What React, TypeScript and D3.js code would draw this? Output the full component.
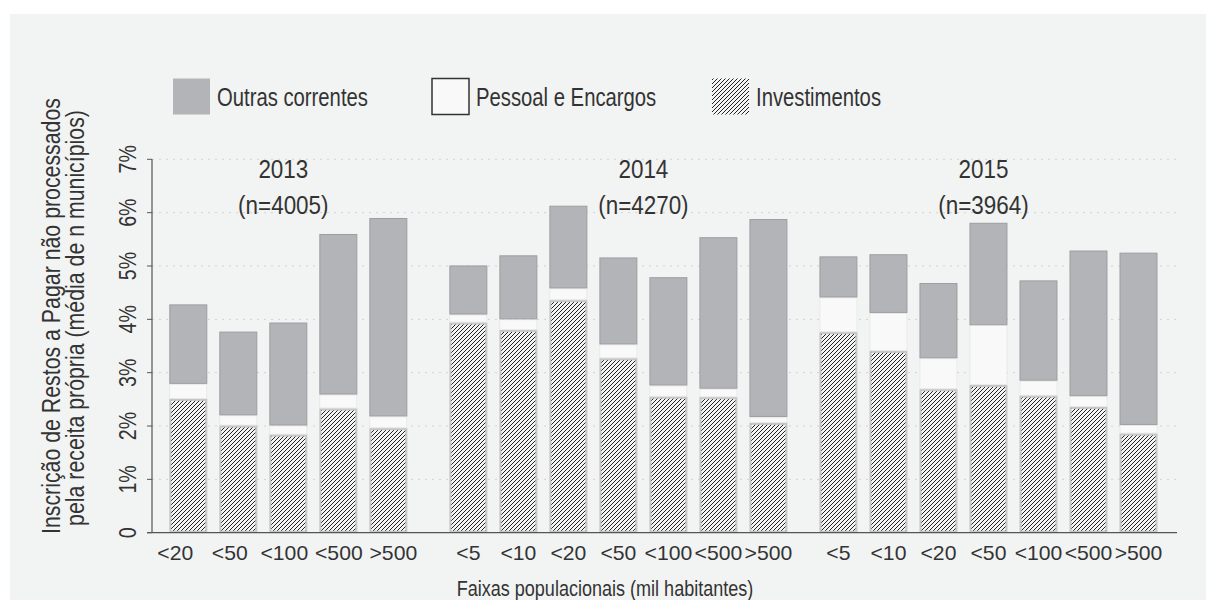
import React from 'react';
import * as d3 from 'd3';

// values (percent of own revenue)
const years = ['2013', '2014', '2015'];
const sampleSizes = ['(n=4005)', '(n=4270)', '(n=3964)'];

const faixas2013 = ['<20', '<50', '<100', '<500', '>500'];
const faixas2014 = ['<5', '<10', '<20', '<50', '<100', '<500', '>500'];
const faixas2015 = ['<5', '<10', '<20', '<50', '<100', '<500', '>500'];

const investimentos2013 = [2.51, 2.01, 1.84, 2.33, 1.96];
const pessoal2013 = [0.28, 0.19, 0.17, 0.26, 0.22];
const outras2013 = [1.49, 1.57, 1.93, 3.01, 3.72];

const investimentos2014 = [3.94, 3.8, 4.36, 3.27, 2.55, 2.54, 2.06];
const pessoal2014 = [0.15, 0.2, 0.22, 0.26, 0.21, 0.16, 0.11];
const outras2014 = [0.92, 1.2, 1.55, 1.63, 2.03, 2.84, 3.71];

const investimentos2015 = [3.76, 3.41, 2.69, 2.77, 2.57, 2.36, 1.86];
const pessoal2015 = [0.65, 0.71, 0.58, 1.12, 0.28, 0.2, 0.16];
const outras2015 = [0.77, 1.1, 1.41, 1.92, 1.88, 2.73, 3.23];

const yTicks = [0, 1, 2, 3, 4, 5, 6, 7];
const seriesKeys = ['investimentos', 'pessoal', 'outras'];
const legendLabels = ['Outras correntes', 'Pessoal e Encargos', 'Investimentos'];

// layout
const W = 1206;
const H = 600;
const FONT = "'Liberation Sans', Arial, sans-serif";
const TEXT = '#333';
const GREY = '#b3b4b8';
const groupGaps = [0, 0.6, 0.4]; // extra slots before each group
const labelSpread = [1.09, 1, 1]; // 2013 tick labels sit a bit wider than its bars
const labelShift = [-0.08, 0, 0];
const yearLabelSlot = [1.9, 9.1, 15.9];
const barWidth = 38;

const groups = [
  { faixas: faixas2013, inv: investimentos2013, pes: pessoal2013, out: outras2013 },
  { faixas: faixas2014, inv: investimentos2014, pes: pessoal2014, out: outras2014 },
  { faixas: faixas2015, inv: investimentos2015, pes: pessoal2015, out: outras2015 },
];

type Row = { slot: number; labelSlot: number; faixa: string; investimentos: number; pessoal: number; outras: number };

const rows: Row[] = [];
let cursor = 0;
groups.forEach((g, gi) => {
  cursor += groupGaps[gi];
  const mid = cursor + (g.faixas.length - 1) / 2;
  g.faixas.forEach((f, i) => {
    const labelSlot = mid + labelShift[gi] + (cursor - mid) * labelSpread[gi];
    rows.push({ slot: cursor, labelSlot, faixa: f, investimentos: g.inv[i], pessoal: g.pes[i], outras: g.out[i] });
    cursor += 1;
  });
});

const x = d3.scaleLinear().domain([0, d3.max(rows, (d) => d.slot) as number]).range([188.3, 1138.5]);
const y = d3.scaleLinear().domain([0, 7]).range([532.7, 159.3]);

const stacked = d3.stack<Row>().keys(seriesKeys)(rows);

const segStyle: Record<string, any> = {
  investimentos: { fill: 'url(#hatch)', stroke: '#c6c6c6', strokeWidth: 2 },
  pessoal: { fill: '#f9f9f9', stroke: '#e2e2e2', strokeWidth: 0.6 },
  outras: { fill: GREY, stroke: '#9d9ea2', strokeWidth: 1 },
};

// text squeezed horizontally to mimic the condensed face of the reference
function NText(props: { x: number; y: number; rotate?: number; anchor?: string; size: number; sx: number; children: any }) {
  const { x: tx, y: ty, rotate = 0, anchor = 'start', size, sx, children } = props;
  return (
    <text transform={`translate(${tx},${ty}) rotate(${rotate}) scale(${sx},1)`}
      textAnchor={anchor} fontSize={size} fill={TEXT}>{children}</text>
  );
}

export default function App() {
  const axisLeft = 152;
  const axisRight = 1177;
  const yBase = y(0);

  return (
    <svg width={W} height={H} style={{ position: 'absolute', left: 0, top: 0, fontFamily: FONT }}>
      <defs>
        <pattern id="hatch" patternUnits="userSpaceOnUse" width="4" height="4">
          <rect width="4" height="4" fill="#f4f4f4" />
          <path d="M-1,1 l2,-2 M0,4 l4,-4 M3,5 l2,-2" stroke="#222" strokeWidth="1" />
        </pattern>
      </defs>
      <rect x={0} y={0} width={W} height={H} fill="#fff" />
      <rect x={10} y={14} width={W - 10} height={H - 14} fill="#f2f3f3" />

      {/* dotted grid */}
      {yTicks.slice(1).map((t) => (
        <line key={t} x1={axisLeft} x2={axisRight} y1={y(t)} y2={y(t)}
          stroke="#d2d2d2" strokeDasharray="2 5" strokeWidth={1} />
      ))}

      {/* bars */}
      {stacked.map((layer) => (
        <g key={layer.key}>
          {layer.map((seg, i) => {
            const d = seg.data;
            const st = segStyle[layer.key];
            const inset = layer.key === 'investimentos' ? 1 : 0.5;
            return (
              <rect key={i}
                x={x(d.slot) - barWidth / 2 + inset}
                y={y(seg[1]) + inset}
                width={barWidth - inset * 2}
                height={Math.max(0, y(seg[0]) - y(seg[1]) - inset * 2)}
                fill={st.fill} stroke={st.stroke} strokeWidth={st.strokeWidth} />
            );
          })}
        </g>
      ))}

      {/* axes */}
      <line x1={axisLeft} x2={axisLeft} y1={y(7)} y2={yBase} stroke="#555" strokeWidth={1.2} />
      <line x1={axisLeft - 5} x2={axisRight} y1={yBase} y2={yBase} stroke="#555" strokeWidth={1.2} />
      {yTicks.map((t) => (
        <g key={t}>
          <line x1={axisLeft - 5} x2={axisLeft} y1={y(t)} y2={y(t)} stroke="#555" strokeWidth={1} />
          <NText x={135.5} y={y(t)} rotate={-90} anchor="middle" size={24} sx={0.82}>{t === 0 ? '0' : `${t}%`}</NText>
        </g>
      ))}
      <NText x={60} y={316} rotate={-90} anchor="middle" size={26} sx={0.82}>
        Inscrição de Restos a Pagar não processados
      </NText>
      <NText x={84} y={318} rotate={-90} anchor="middle" size={26} sx={0.82}>
        pela receita própria (média de n municípios)
      </NText>

      {/* x labels */}
      {rows.map((d, i) => (
        <NText key={i} x={x(d.labelSlot)} y={560} anchor="middle" size={20} sx={1.06}>{d.faixa}</NText>
      ))}
      <NText x={605} y={596} anchor="middle" size={22} sx={0.82}>
        Faixas populacionais (mil habitantes)
      </NText>

      {/* year labels */}
      {years.map((yr, i) => (
        <g key={yr}>
          <NText x={x(yearLabelSlot[i])} y={178} anchor="middle" size={25.5} sx={0.88}>{yr}</NText>
          <NText x={x(yearLabelSlot[i])} y={214} anchor="middle" size={25.5} sx={0.88}>{sampleSizes[i]}</NText>
        </g>
      ))}

      {/* legend */}
      {legendLabels.map((lab, i) => {
        const lx = [173, 432, 712][i];
        const fill = i === 0 ? GREY : i === 1 ? '#f9f9f9' : 'url(#hatch)';
        const stroke = i === 1 ? '#333' : 'none';
        return (
          <g key={lab}>
            <rect x={lx} y={78.5} width={37} height={36} fill={fill} stroke={stroke} strokeWidth={1.5} />
            <NText x={lx + 44} y={105.5} size={26} sx={0.78}>{lab}</NText>
          </g>
        );
      })}
    </svg>
  );
}
